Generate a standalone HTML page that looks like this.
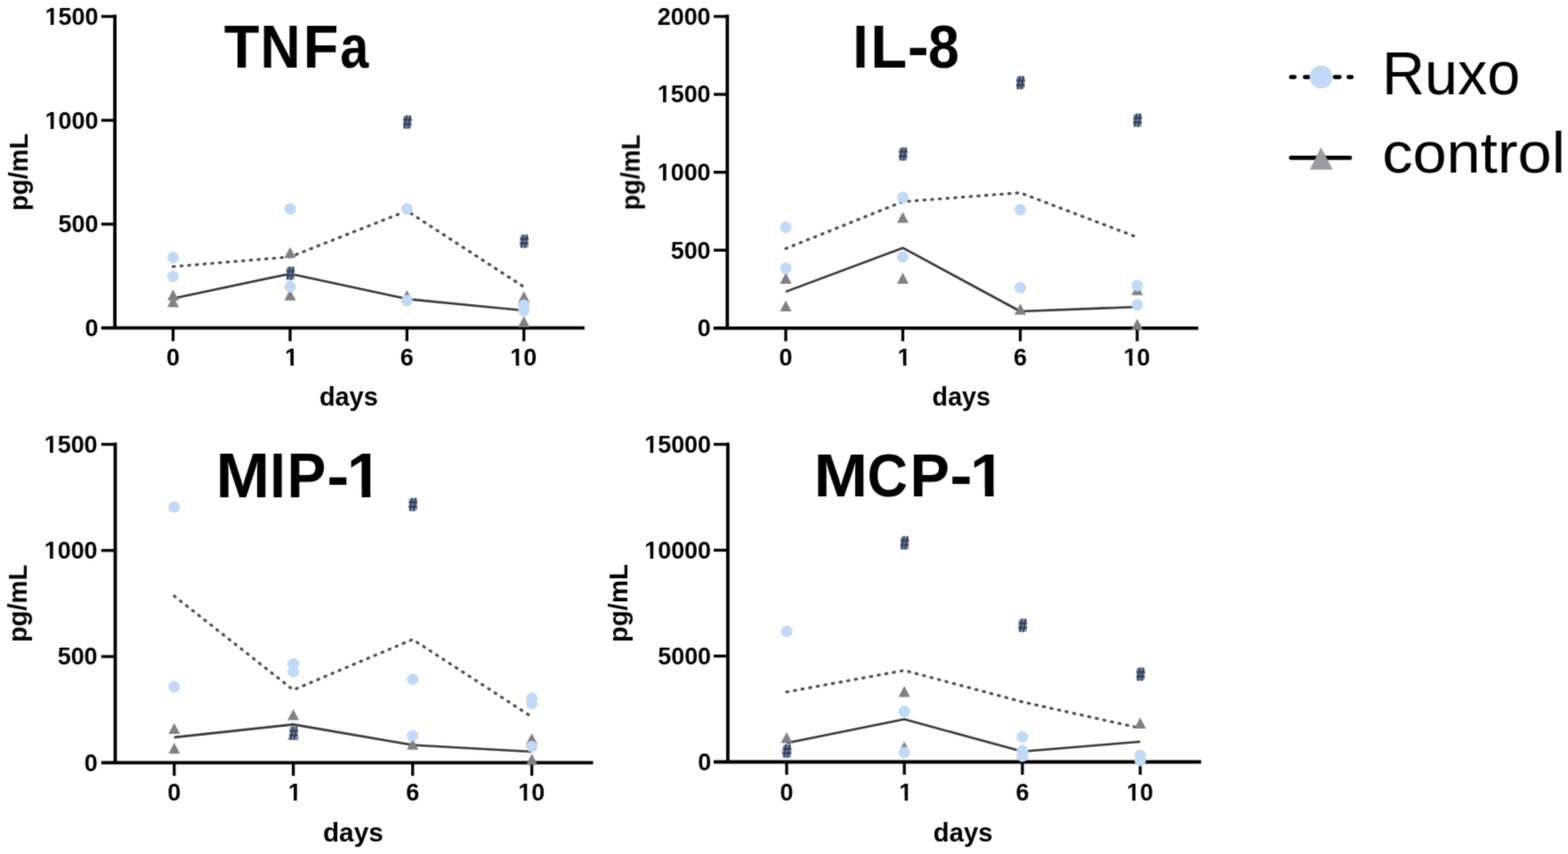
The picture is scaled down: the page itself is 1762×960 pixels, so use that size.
<!DOCTYPE html>
<html><head><meta charset="utf-8"><title>Cytokines</title>
<style>
html,body{margin:0;padding:0;background:#fff;}
body{width:1762px;height:960px;overflow:hidden;}
svg{display:block;font-family:"Liberation Sans", Arial, sans-serif;}
</style></head>
<body>
<svg width="1762" height="960" viewBox="0 0 1762 960">
<defs><filter id="soft" x="0" y="0" width="100%" height="100%" color-interpolation-filters="sRGB"><feConvolveMatrix order="3" kernelMatrix="0.0277 0.1110 0.0277 0.1110 0.4452 0.1110 0.0277 0.1110 0.0277" preserveAlpha="false" edgeMode="none"/></filter></defs>
<rect width="1762" height="960" fill="#fff"/>
<g filter="url(#soft)">
<g fill="none" stroke="#000" stroke-width="3.8">
<path d="M129.1 16.6V368.7"/>
<path d="M113.8 368.7H656.8"/>
</g>
<g fill="none" stroke="#000" stroke-width="3.3">
<path d="M113.8 251.97H129.1"/>
<path d="M113.8 135.23H129.1"/>
<path d="M113.8 18.5H129.1"/>
<path d="M194.5 368.7V383.5"/>
<path d="M326 368.7V383.5"/>
<path d="M457.3 368.7V383.5"/>
<path d="M588.7 368.7V383.5"/>
</g>
<text transform="translate(95.43 378.06) scale(0.9900 1)" font-size="27.20" font-weight="bold">0</text>
<text transform="translate(65.48 261.33) scale(0.9900 1)" font-size="27.20" font-weight="bold">500</text>
<text transform="translate(50.5 144.6) scale(0.9900 1)" font-size="27.20" font-weight="bold">1000</text>
<text transform="translate(50.5 27.86) scale(0.9900 1)" font-size="27.20" font-weight="bold">1500</text>
<text transform="translate(187.03 411.29) scale(0.9900 1)" font-size="27.20" font-weight="bold">0</text>
<text transform="translate(320.09 411.01) scale(0.9900 1)" font-size="27.20" font-weight="bold">1</text>
<text transform="translate(449.81 411.29) scale(0.9900 1)" font-size="27.20" font-weight="bold">6</text>
<text transform="translate(573.36 411.29) scale(0.9900 1)" font-size="27.20" font-weight="bold">10</text>
<text transform="translate(358.91 456.33) scale(1.0052 1)" font-size="28.75" font-weight="bold">days</text>
<text transform="translate(31.05 236.91) rotate(-90) scale(0.9975 1)" font-size="29.04" font-weight="bold">pg/mL</text>
<text y="75.9" font-size="68.90" font-weight="bold"><tspan x="251.67" textLength="39.73" lengthAdjust="spacingAndGlyphs">T</tspan><tspan x="292.42" textLength="45.08" lengthAdjust="spacingAndGlyphs">N</tspan><tspan x="340.76" textLength="39.61" lengthAdjust="spacingAndGlyphs">F</tspan><tspan x="382.31" textLength="32.02" lengthAdjust="spacingAndGlyphs">a</tspan></text>
<polyline points="194.5,299.7 326,288.8 457.3,237 588.7,322.5" fill="none" stroke="#4e4e4e" stroke-width="3.2" stroke-linecap="round" stroke-dasharray="1.5 7.2"/>
<polyline points="194.5,335.5 326,307.7 457.3,336.1 588.7,349" fill="none" stroke="#393939" stroke-width="2.6" stroke-linejoin="round"/>
<path d="M194.5 325.34L201 337.69L188 337.69Z" fill="#808086"/>
<path d="M194.5 332.84L201 345.19L188 345.19Z" fill="#808086"/>
<path d="M326 277.64L332.5 289.99L319.5 289.99Z" fill="#808086"/>
<path d="M326 325.34L332.5 337.69L319.5 337.69Z" fill="#808086"/>
<path d="M457.3 326.34L463.8 338.69L450.8 338.69Z" fill="#808086"/>
<path d="M588.7 327.34L595.2 339.69L582.2 339.69Z" fill="#808086"/>
<path d="M588.7 355.34L595.2 367.69L582.2 367.69Z" fill="#808086"/>
<circle cx="194.5" cy="289.5" r="6.5" fill="#c1d9f7"/>
<circle cx="194.5" cy="310.7" r="6.5" fill="#c1d9f7"/>
<circle cx="326" cy="234.8" r="6.5" fill="#c1d9f7"/>
<circle cx="326" cy="322.3" r="6.5" fill="#c1d9f7"/>
<circle cx="457.3" cy="234.8" r="6.5" fill="#c1d9f7"/>
<circle cx="457.3" cy="338" r="6.5" fill="#c1d9f7"/>
<circle cx="588.7" cy="343" r="6.5" fill="#c1d9f7"/>
<circle cx="588.7" cy="349" r="6.5" fill="#c1d9f7"/>
<rect x="453.1" y="130.1" width="9.2" height="14.6" rx="2.5" fill="#8190aa"/>
<text transform="translate(452.91 144.2) scale(0.8620 1)" font-size="19.97" font-weight="bold" fill="#36425e" stroke="#36425e" stroke-width="0.8" stroke-linejoin="round">#</text>
<rect x="584.5" y="264.1" width="9.2" height="14.6" rx="2.5" fill="#8190aa"/>
<text transform="translate(584.31 278.2) scale(0.8620 1)" font-size="19.97" font-weight="bold" fill="#36425e" stroke="#36425e" stroke-width="0.8" stroke-linejoin="round">#</text>
<rect x="321.8" y="300.1" width="9.2" height="14.6" rx="2.5" fill="#8190aa"/>
<text transform="translate(321.61 314.2) scale(0.8620 1)" font-size="19.97" font-weight="bold" fill="#36425e" stroke="#36425e" stroke-width="0.8" stroke-linejoin="round">#</text>
<g fill="none" stroke="#000" stroke-width="3.8">
<path d="M817.3 16.6V368.8"/>
<path d="M801.8 368.8H1346.5"/>
</g>
<g fill="none" stroke="#000" stroke-width="3.3">
<path d="M802 281.23H817.3"/>
<path d="M802 193.65H817.3"/>
<path d="M802 106.07H817.3"/>
<path d="M802 18.5H817.3"/>
<path d="M883 368.8V383.6"/>
<path d="M1014.5 368.8V383.6"/>
<path d="M1146.5 368.8V383.6"/>
<path d="M1277.9 368.8V383.6"/>
</g>
<text transform="translate(783.63 378.16) scale(0.9900 1)" font-size="27.20" font-weight="bold">0</text>
<text transform="translate(753.68 290.59) scale(0.9900 1)" font-size="27.20" font-weight="bold">500</text>
<text transform="translate(738.7 203.01) scale(0.9900 1)" font-size="27.20" font-weight="bold">1000</text>
<text transform="translate(738.7 115.44) scale(0.9900 1)" font-size="27.20" font-weight="bold">1500</text>
<text transform="translate(738.7 27.86) scale(0.9900 1)" font-size="27.20" font-weight="bold">2000</text>
<text transform="translate(875.53 411.29) scale(0.9900 1)" font-size="27.20" font-weight="bold">0</text>
<text transform="translate(1008.59 411.01) scale(0.9900 1)" font-size="27.20" font-weight="bold">1</text>
<text transform="translate(1139.01 411.29) scale(0.9900 1)" font-size="27.20" font-weight="bold">6</text>
<text transform="translate(1262.56 411.29) scale(0.9900 1)" font-size="27.20" font-weight="bold">10</text>
<text transform="translate(1047.62 456.33) scale(0.9988 1)" font-size="28.75" font-weight="bold">days</text>
<text transform="translate(718.78 236.27) rotate(-90) scale(0.9679 1)" font-size="29.36" font-weight="bold">pg/mL</text>
<text y="75.8" font-size="68.97" font-weight="bold"><tspan x="958.35" textLength="17.46" lengthAdjust="spacingAndGlyphs">I</tspan><tspan x="978.22" textLength="40.95" lengthAdjust="spacingAndGlyphs">L</tspan><tspan x="1019.88" textLength="24" lengthAdjust="spacingAndGlyphs">-</tspan><tspan x="1042.91" textLength="34.92" lengthAdjust="spacingAndGlyphs">8</tspan></text>
<polyline points="883,279.4 1014.5,226.7 1146.5,216.7 1277.9,266.7" fill="none" stroke="#4e4e4e" stroke-width="3.2" stroke-linecap="round" stroke-dasharray="1.5 7.2"/>
<polyline points="883,327.9 1014.5,278.7 1146.5,350 1277.9,345" fill="none" stroke="#393939" stroke-width="2.6" stroke-linejoin="round"/>
<path d="M883 306.54L889.5 318.89L876.5 318.89Z" fill="#808086"/>
<path d="M883 337.64L889.5 349.99L876.5 349.99Z" fill="#808086"/>
<path d="M1014.5 238.24L1021 250.59L1008 250.59Z" fill="#808086"/>
<path d="M1014.5 306.54L1021 318.89L1008 318.89Z" fill="#808086"/>
<path d="M1146.5 341.34L1153 353.69L1140 353.69Z" fill="#808086"/>
<path d="M1277.9 319.34L1284.4 331.69L1271.4 331.69Z" fill="#808086"/>
<path d="M1277.9 358.34L1284.4 370.69L1271.4 370.69Z" fill="#808086"/>
<circle cx="883" cy="255.5" r="6.5" fill="#c1d9f7"/>
<circle cx="883" cy="301.5" r="6.5" fill="#c1d9f7"/>
<circle cx="1014.5" cy="221.9" r="6.5" fill="#c1d9f7"/>
<circle cx="1014.5" cy="289" r="6.5" fill="#c1d9f7"/>
<circle cx="1146.5" cy="235.7" r="6.5" fill="#c1d9f7"/>
<circle cx="1146.5" cy="323.3" r="6.5" fill="#c1d9f7"/>
<circle cx="1277.9" cy="321" r="6.5" fill="#c1d9f7"/>
<circle cx="1277.9" cy="342.7" r="6.5" fill="#c1d9f7"/>
<rect x="1010.3" y="165.9" width="9.2" height="14.6" rx="2.5" fill="#8190aa"/>
<text transform="translate(1010.11 180) scale(0.8620 1)" font-size="19.97" font-weight="bold" fill="#36425e" stroke="#36425e" stroke-width="0.8" stroke-linejoin="round">#</text>
<rect x="1142.3" y="85.4" width="9.2" height="14.6" rx="2.5" fill="#8190aa"/>
<text transform="translate(1142.11 99.5) scale(0.8620 1)" font-size="19.97" font-weight="bold" fill="#36425e" stroke="#36425e" stroke-width="0.8" stroke-linejoin="round">#</text>
<rect x="1273.7" y="128.1" width="9.2" height="14.6" rx="2.5" fill="#8190aa"/>
<text transform="translate(1273.51 142.2) scale(0.8620 1)" font-size="19.97" font-weight="bold" fill="#36425e" stroke="#36425e" stroke-width="0.8" stroke-linejoin="round">#</text>
<g fill="none" stroke="#000" stroke-width="3.8">
<path d="M129.5 497.6V857.3"/>
<path d="M113.8 857.3H666.5"/>
</g>
<g fill="none" stroke="#000" stroke-width="3.3">
<path d="M113.8 738.03H129.5"/>
<path d="M113.8 618.77H129.5"/>
<path d="M113.8 499.5H129.5"/>
<path d="M195.8 857.3V872.1"/>
<path d="M329.6 857.3V872.1"/>
<path d="M463.7 857.3V872.1"/>
<path d="M597.6 857.3V872.1"/>
</g>
<text transform="translate(94.63 866.66) scale(0.9900 1)" font-size="27.20" font-weight="bold">0</text>
<text transform="translate(64.68 747.4) scale(0.9900 1)" font-size="27.20" font-weight="bold">500</text>
<text transform="translate(49.7 628.13) scale(0.9900 1)" font-size="27.20" font-weight="bold">1000</text>
<text transform="translate(49.7 508.86) scale(0.9900 1)" font-size="27.20" font-weight="bold">1500</text>
<text transform="translate(188.33 900.19) scale(0.9900 1)" font-size="27.20" font-weight="bold">0</text>
<text transform="translate(323.69 899.91) scale(0.9900 1)" font-size="27.20" font-weight="bold">1</text>
<text transform="translate(456.21 900.19) scale(0.9900 1)" font-size="27.20" font-weight="bold">6</text>
<text transform="translate(582.26 900.19) scale(0.9900 1)" font-size="27.20" font-weight="bold">10</text>
<text transform="translate(362.98 946.34) scale(1.0184 1)" font-size="29.18" font-weight="bold">days</text>
<text transform="translate(30.03 721.92) rotate(-90) scale(0.9902 1)" font-size="29.36" font-weight="bold">pg/mL</text>
<text y="558.75" font-size="69.99" font-weight="bold"><tspan x="242.63" textLength="60.64" lengthAdjust="spacingAndGlyphs">M</tspan><tspan x="303.27" textLength="17.55" lengthAdjust="spacingAndGlyphs">I</tspan><tspan x="322.5" textLength="43.84" lengthAdjust="spacingAndGlyphs">P</tspan><tspan x="367.36" textLength="25.05" lengthAdjust="spacingAndGlyphs">-</tspan><tspan x="389.83" textLength="39.65" lengthAdjust="spacingAndGlyphs">1</tspan></text>
<polyline points="195.8,670 329.6,775.6 463.7,718.8 597.6,805.8" fill="none" stroke="#4e4e4e" stroke-width="3.2" stroke-linecap="round" stroke-dasharray="1.5 7.2"/>
<polyline points="195.8,828.9 329.6,814.4 463.7,837.5 597.6,845" fill="none" stroke="#393939" stroke-width="2.6" stroke-linejoin="round"/>
<path d="M195.8 812.64L202.3 824.99L189.3 824.99Z" fill="#808086"/>
<path d="M195.8 834.94L202.3 847.29L189.3 847.29Z" fill="#808086"/>
<path d="M329.6 797.14L336.1 809.49L323.1 809.49Z" fill="#808086"/>
<path d="M329.6 819.34L336.1 831.69L323.1 831.69Z" fill="#808086"/>
<path d="M463.7 830.34L470.2 842.69L457.2 842.69Z" fill="#808086"/>
<path d="M597.6 824.34L604.1 836.69L591.1 836.69Z" fill="#808086"/>
<path d="M597.6 847.34L604.1 859.69L591.1 859.69Z" fill="#808086"/>
<circle cx="195.8" cy="569.9" r="6.5" fill="#c1d9f7"/>
<circle cx="195.8" cy="772.1" r="6.5" fill="#c1d9f7"/>
<circle cx="329.6" cy="746.3" r="6.5" fill="#c1d9f7"/>
<circle cx="329.6" cy="755" r="6.5" fill="#c1d9f7"/>
<circle cx="463.7" cy="763.5" r="6.5" fill="#c1d9f7"/>
<circle cx="463.7" cy="827.1" r="6.5" fill="#c1d9f7"/>
<circle cx="597.6" cy="785" r="6.5" fill="#c1d9f7"/>
<circle cx="597.6" cy="791" r="6.5" fill="#c1d9f7"/>
<circle cx="597.6" cy="839.2" r="6.5" fill="#c1d9f7"/>
<rect x="459.5" y="559.9" width="9.2" height="14.6" rx="2.5" fill="#8190aa"/>
<text transform="translate(459.31 574) scale(0.8620 1)" font-size="19.97" font-weight="bold" fill="#36425e" stroke="#36425e" stroke-width="0.8" stroke-linejoin="round">#</text>
<rect x="325.4" y="816.8" width="9.2" height="14.6" rx="2.5" fill="#8190aa"/>
<text transform="translate(325.21 830.9) scale(0.8620 1)" font-size="19.97" font-weight="bold" fill="#36425e" stroke="#36425e" stroke-width="0.8" stroke-linejoin="round">#</text>
<g fill="none" stroke="#000" stroke-width="3.8">
<path d="M817.9 497.6V856.5"/>
<path d="M802 856.5H1349.7"/>
</g>
<g fill="none" stroke="#000" stroke-width="3.3">
<path d="M802 737.5H817.9"/>
<path d="M802 618.5H817.9"/>
<path d="M802 499.5H817.9"/>
<path d="M884 856.5V870.9"/>
<path d="M1016.2 856.5V870.9"/>
<path d="M1148.9 856.5V870.9"/>
<path d="M1281.3 856.5V870.9"/>
</g>
<text transform="translate(784.13 865.86) scale(0.9900 1)" font-size="27.20" font-weight="bold">0</text>
<text transform="translate(739.2 746.86) scale(0.9900 1)" font-size="27.20" font-weight="bold">5000</text>
<text transform="translate(724.22 627.86) scale(0.9900 1)" font-size="27.20" font-weight="bold">10000</text>
<text transform="translate(724.22 508.86) scale(0.9900 1)" font-size="27.20" font-weight="bold">15000</text>
<text transform="translate(876.53 900.19) scale(0.9900 1)" font-size="27.20" font-weight="bold">0</text>
<text transform="translate(1010.29 899.91) scale(0.9900 1)" font-size="27.20" font-weight="bold">1</text>
<text transform="translate(1141.41 900.19) scale(0.9900 1)" font-size="27.20" font-weight="bold">6</text>
<text transform="translate(1265.96 900.19) scale(0.9900 1)" font-size="27.20" font-weight="bold">10</text>
<text transform="translate(1048.8 946.34) scale(1.0013 1)" font-size="29.18" font-weight="bold">days</text>
<text transform="translate(704.66 721.93) rotate(-90) scale(0.9794 1)" font-size="29.90" font-weight="bold">pg/mL</text>
<text y="558.4" font-size="69.04" font-weight="bold"><tspan x="914.53" textLength="60.64" lengthAdjust="spacingAndGlyphs">M</tspan><tspan x="974.62" textLength="45.51" lengthAdjust="spacingAndGlyphs">C</tspan><tspan x="1022.43" textLength="44.55" lengthAdjust="spacingAndGlyphs">P</tspan><tspan x="1067.32" textLength="25.44" lengthAdjust="spacingAndGlyphs">-</tspan><tspan x="1090.11" textLength="39.75" lengthAdjust="spacingAndGlyphs">1</tspan></text>
<polyline points="884,777.8 1016.2,753.6 1148.9,789 1281.3,818.5" fill="none" stroke="#4e4e4e" stroke-width="3.2" stroke-linecap="round" stroke-dasharray="1.5 7.2"/>
<polyline points="884,835.2 1016.2,808.6 1148.9,844.8 1281.3,833.8" fill="none" stroke="#393939" stroke-width="2.6" stroke-linejoin="round"/>
<path d="M884 822.94L890.5 835.29L877.5 835.29Z" fill="#808086"/>
<path d="M1016.2 771.04L1022.7 783.39L1009.7 783.39Z" fill="#808086"/>
<path d="M1016.2 833.54L1022.7 845.89L1009.7 845.89Z" fill="#808086"/>
<path d="M1148.9 840.34L1155.4 852.69L1142.4 852.69Z" fill="#808086"/>
<path d="M1281.3 806.54L1287.8 818.89L1274.8 818.89Z" fill="#808086"/>
<circle cx="884" cy="709.8" r="6.5" fill="#c1d9f7"/>
<circle cx="884" cy="845" r="6.5" fill="#c1d9f7"/>
<circle cx="1016.2" cy="799.8" r="6.5" fill="#c1d9f7"/>
<circle cx="1016.2" cy="846" r="6.5" fill="#c1d9f7"/>
<circle cx="1148.9" cy="828.4" r="6.5" fill="#c1d9f7"/>
<circle cx="1148.9" cy="844" r="6.5" fill="#c1d9f7"/>
<circle cx="1148.9" cy="850" r="6.5" fill="#c1d9f7"/>
<circle cx="1281.3" cy="849.2" r="6.5" fill="#c1d9f7"/>
<circle cx="1281.3" cy="855" r="6.5" fill="#c1d9f7"/>
<rect x="879.8" y="837.3" width="9.2" height="14.6" rx="2.5" fill="#8190aa"/>
<text transform="translate(879.61 851.4) scale(0.8620 1)" font-size="19.97" font-weight="bold" fill="#36425e" stroke="#36425e" stroke-width="0.8" stroke-linejoin="round">#</text>
<rect x="1012" y="603.3" width="9.2" height="14.6" rx="2.5" fill="#8190aa"/>
<text transform="translate(1011.81 617.4) scale(0.8620 1)" font-size="19.97" font-weight="bold" fill="#36425e" stroke="#36425e" stroke-width="0.8" stroke-linejoin="round">#</text>
<rect x="1144.7" y="695.7" width="9.2" height="14.6" rx="2.5" fill="#8190aa"/>
<text transform="translate(1144.51 709.8) scale(0.8620 1)" font-size="19.97" font-weight="bold" fill="#36425e" stroke="#36425e" stroke-width="0.8" stroke-linejoin="round">#</text>
<rect x="1277.1" y="750.4" width="9.2" height="14.6" rx="2.5" fill="#8190aa"/>
<text transform="translate(1276.91 764.5) scale(0.8620 1)" font-size="19.97" font-weight="bold" fill="#36425e" stroke="#36425e" stroke-width="0.8" stroke-linejoin="round">#</text>
<rect x="51.03" y="140.62" width="5.76" height="5.18" fill="#fff"/>
<rect x="60.48" y="140.62" width="5.14" height="5.18" fill="#fff"/>
<rect x="51.03" y="23.89" width="5.76" height="5.18" fill="#fff"/>
<rect x="60.48" y="23.89" width="5.14" height="5.18" fill="#fff"/>
<rect x="320.62" y="407.04" width="5.76" height="5.18" fill="#fff"/>
<rect x="330.07" y="407.04" width="5.14" height="5.18" fill="#fff"/>
<rect x="573.88" y="407.32" width="5.76" height="5.18" fill="#fff"/>
<rect x="583.34" y="407.32" width="5.14" height="5.18" fill="#fff"/>
<rect x="739.23" y="199.04" width="5.76" height="5.18" fill="#fff"/>
<rect x="748.68" y="199.04" width="5.14" height="5.18" fill="#fff"/>
<rect x="739.23" y="111.46" width="5.76" height="5.18" fill="#fff"/>
<rect x="748.68" y="111.46" width="5.14" height="5.18" fill="#fff"/>
<rect x="1009.12" y="407.04" width="5.76" height="5.18" fill="#fff"/>
<rect x="1018.57" y="407.04" width="5.14" height="5.18" fill="#fff"/>
<rect x="1263.08" y="407.32" width="5.76" height="5.18" fill="#fff"/>
<rect x="1272.54" y="407.32" width="5.14" height="5.18" fill="#fff"/>
<rect x="50.23" y="624.15" width="5.76" height="5.18" fill="#fff"/>
<rect x="59.68" y="624.15" width="5.14" height="5.18" fill="#fff"/>
<rect x="50.23" y="504.89" width="5.76" height="5.18" fill="#fff"/>
<rect x="59.68" y="504.89" width="5.14" height="5.18" fill="#fff"/>
<rect x="324.22" y="895.94" width="5.76" height="5.18" fill="#fff"/>
<rect x="333.67" y="895.94" width="5.14" height="5.18" fill="#fff"/>
<rect x="582.78" y="896.22" width="5.76" height="5.18" fill="#fff"/>
<rect x="592.24" y="896.22" width="5.14" height="5.18" fill="#fff"/>
<rect x="391.22" y="550.41" width="15.25" height="9.54" fill="#fff"/>
<rect x="416.25" y="550.41" width="13.61" height="9.54" fill="#fff"/>
<rect x="724.75" y="623.89" width="5.76" height="5.18" fill="#fff"/>
<rect x="734.2" y="623.89" width="5.14" height="5.18" fill="#fff"/>
<rect x="724.75" y="504.89" width="5.76" height="5.18" fill="#fff"/>
<rect x="734.2" y="504.89" width="5.14" height="5.18" fill="#fff"/>
<rect x="1010.82" y="895.94" width="5.76" height="5.18" fill="#fff"/>
<rect x="1020.27" y="895.94" width="5.14" height="5.18" fill="#fff"/>
<rect x="1266.48" y="896.22" width="5.76" height="5.18" fill="#fff"/>
<rect x="1275.94" y="896.22" width="5.14" height="5.18" fill="#fff"/>
<rect x="1091.51" y="550.15" width="15.28" height="9.45" fill="#fff"/>
<rect x="1116.6" y="550.15" width="13.64" height="9.45" fill="#fff"/>
<g stroke="#000" stroke-width="4.6" stroke-linecap="round" fill="none">
<path d="M1450.7 86.6H1454.8M1466.3 86.6H1471M1500 86.6H1505.4M1515.3 86.6H1518.9"/>
<path d="M1450.7 177.4H1517.1"/>
</g>
<circle cx="1484.6" cy="86.6" r="13" fill="#c1d9f7"/>
<path d="M1484.4 165.6L1497.7 190.7L1471.9 190.7Z" fill="#9b9ba1"/>
<text transform="translate(1552.94 106.43) scale(0.9728 1)" font-size="68.36">Ruxo</text>
<text transform="translate(1553.19 194.16) scale(1.0490 1)" font-size="65.36">control</text>
</g>
</svg>
</body></html>
